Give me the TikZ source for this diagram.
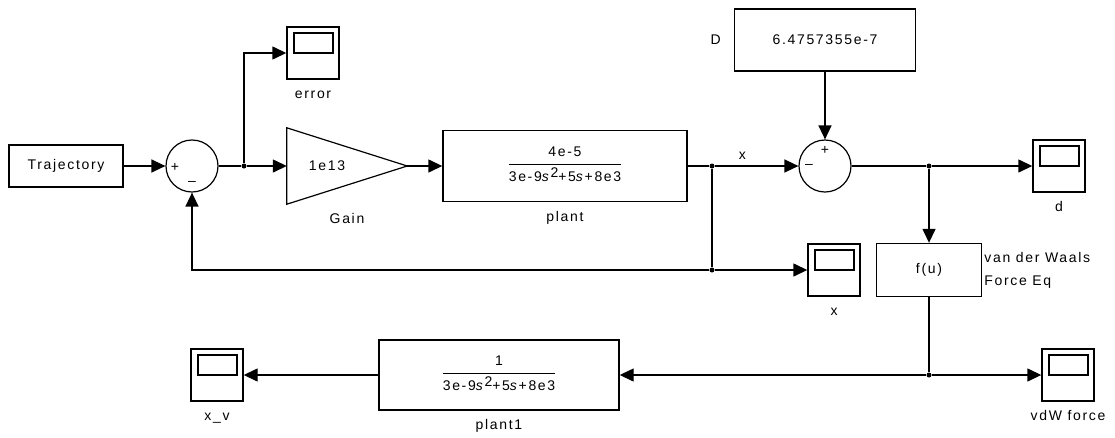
\documentclass[tikz,border=0pt]{standalone}
\usepackage{fontspec}
\setmainfont{Liberation Sans}[LetterSpace=12]
\usetikzlibrary{arrows.meta}

\newcommand{\tfblock}[2]{\begin{tabular}{@{}c@{}}#1\\[3pt]\hline\rule{0pt}{17pt}#2\end{tabular}}
\newcommand{\sq}{\raisebox{4pt}{2}}

\tikzset{
	blk/.style={draw, rectangle, line width=1.4pt, inner sep=0pt, align=center},
	scopebox/.style={draw, rectangle, line width=1.4pt, minimum size=52pt, inner sep=0pt,
		path picture={\draw[line width=1.4pt] ([xshift=7pt,yshift=-6pt]path picture bounding box.north west) rectangle ([xshift=-6pt]path picture bounding box.east);}},
	sumnode/.style={draw, circle, line width=1.2pt, minimum size=52pt, inner sep=0pt},
	sign/.style={inner sep=0pt},
	dot/.style={circle, fill, inner sep=0pt, minimum size=5pt},
	wire/.style={line width=1.4pt},
	sig/.style={line width=1.4pt, -{Triangle[length=14pt,width=13pt]}},
	lbl/.style={inner sep=0pt, text height=10pt, text depth=2pt}
}

\begin{document}
\begin{tikzpicture}[x=1pt, y=-1pt, font=\fontsize{14}{16}\selectfont, label distance=9pt]
	\useasboundingbox (0,0) rectangle (1115,437);

	% forward path
	\node[blk, minimum width=114pt, minimum height=42pt] (traj) at (66,166) {Trajectory};
	\node[sumnode] (sum1) at (192,166) {};
	\node[sign] (sum1p) at (175,167) {+};
	\node[sign] (sum1m) at (192,183) {\textendash};
	\node[dot] (b1) at (244,166) {};
	\node[scopebox, label={[lbl]below:error}] (err) at (313,53) {};
	\node[minimum width=120pt, minimum height=76pt, inner sep=0pt, label={[lbl]below:Gain}] (gain) at (347,166) {};
	\draw[line width=1.2pt] (gain.north west) -- (gain.east) -- (gain.south west) -- cycle;
	\node (gaink) at (327,166) {1e13};
	\node[blk, minimum width=244pt, minimum height=71pt, label={[lbl]below:plant}] (plant) at (565,166) {\tfblock{4e-5}{3e-9\textit{s}\sq+5\textit{s}+8e3}};
	\node[dot] (b2) at (712,166) {};

	% D and second sum
	\node[blk, minimum width=181pt, minimum height=62pt, label={[lbl, label distance=13pt]left:D}] (D) at (825,40) {6.4757355e-7};
	\node[sumnode] (sum2) at (825,166) {};
	\node[sign] (sum2p) at (825,150) {+};
	\node[sign] (sum2m) at (809,166) {\textendash};
	\node[dot] (b3) at (929,166) {};
	\node[scopebox, label={[lbl]below:d}] (dsc) at (1059,166) {};

	% van der Waals branch
	\node[blk, minimum width=105pt, minimum height=53pt, label={[align=left, inner sep=0pt, label distance=2pt]right:van der Waals\\[7pt]Force Eq}] (fu) at (929,270) {f(u)};
	\node[dot] (b4) at (712,270) {};
	\node[scopebox, label={[lbl]below:x}] (xsc) at (834,270) {};
	\node[dot] (b5) at (929,375) {};
	\node[scopebox, label={[lbl]below:vdW force}] (vdw) at (1068,375) {};
	\node[blk, minimum width=240pt, minimum height=70pt, label={[lbl]below:plant1}] (plant1) at (499,375) {\tfblock{1}{3e-9\textit{s}\sq+5\textit{s}+8e3}};
	\node[scopebox, label={[lbl]below:x\_v}] (xv) at (217,375) {};

	% connections
	\draw[sig] (traj) -- (sum1);
	\draw[wire] (sum1) -- (b1);
	\draw[sig] (b1) -- (gain.west);
	\draw[sig] (b1) |- (err);
	\draw[sig] (gain.east) -- (plant);
	\draw[wire] (plant) -- (b2);
	\draw[sig] (b2) -- node[pos=0.33, above, yshift=2pt] (xlbl) {x} (sum2);
	\draw[sig] (D) -- (sum2);
	\draw[wire] (sum2) -- (b3);
	\draw[sig] (b3) -- (dsc);
	\draw[sig] (b3) -- (fu);
	\draw[wire] (b2) -- (b4);
	\draw[sig] (b4) -- (xsc);
	\draw[sig] (b4) -| (sum1);
	\draw[wire] (fu) -- (b5);
	\draw[sig] (b5) -- (vdw);
	\draw[sig] (b5) -- (plant1);
	\draw[sig] (plant1) -- (xv);
\end{tikzpicture}
\end{document}
